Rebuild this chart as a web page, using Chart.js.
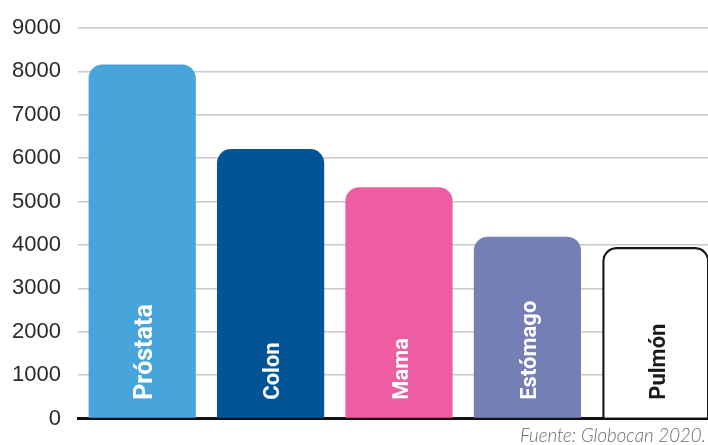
<!DOCTYPE html>
<html>
<head>
<meta charset="utf-8">
<script src="https://cdn.jsdelivr.net/npm/chart.js@4.4.1/dist/chart.umd.min.js"></script>
<style>
  html, body { margin: 0; padding: 0; background: #fff; overflow: hidden; }
  #wrap { position: relative; width: 720px; height: 445px; }
</style>
</head>
<body>
<div id="wrap"><canvas id="c"></canvas></div>
<script>
const categories = ['Próstata', 'Colon', 'Mama', 'Estómago', 'Pulmón'];
const cases = [8160, 6210, 5330, 4190, 3950];
const yTicks = [0, 1000, 2000, 3000, 4000, 5000, 6000, 7000, 8000, 9000];
const sourceNote = 'Fuente: Globocan 2020.';

const fillColors = ['#48a5db', '#035496', '#ee5ca2', '#7480b5', '#ffffff'];
const borderColors = ['#48a5db', '#035496', '#ee5ca2', '#7480b5', '#1a1a1a'];
const borderWidths = [0, 0, 0, 0, 2.5];
const labelColors = ['#ffffff', '#ffffff', '#ffffff', '#ffffff', '#1a1a1a'];
const labelSizes = [25, 22, 22, 22, 22];
const labelFont = 'Roboto';

const barLabels = {
  id: 'barLabels',
  afterDatasetsDraw(chart) {
    const ctx = chart.ctx;
    const meta = chart.getDatasetMeta(0);
    meta.data.forEach((bar, i) => {
      const size = labelSizes[i];
      ctx.save();
      ctx.font = 'bold ' + size + 'px ' + labelFont;
      ctx.fillStyle = labelColors[i];
      ctx.textAlign = 'left';
      ctx.textBaseline = 'alphabetic';
      ctx.translate(bar.x + size * 0.711 / 2 + 1, bar.base - 18);
      ctx.rotate(-Math.PI / 2);
      ctx.fillText(categories[i], 0, 0);
      ctx.restore();
    });
  },
  afterDraw(chart) {
    const ctx = chart.ctx;
    ctx.save();
    ctx.font = 'italic 300 18.7px Lato';
    ctx.fillStyle = '#6a6a6a';
    ctx.textAlign = 'right';
    ctx.textBaseline = 'alphabetic';
    ctx.fillText(sourceNote, 706, 442);
    ctx.restore();
  }
};

function build() {
  new Chart(document.getElementById('c'), {
    type: 'bar',
    data: {
      labels: categories,
      datasets: [{
        data: cases,
        backgroundColor: fillColors,
        borderColor: borderColors,
        borderWidth: borderWidths,
        borderRadius: 14,
        borderSkipped: 'start',
        barPercentage: 0.835,
        categoryPercentage: 1
      }]
    },
    options: {
      responsive: true,
      maintainAspectRatio: false,
      animation: false,
      devicePixelRatio: 1,
      layout: { padding: { top: 28, left: 0, right: 0, bottom: 26.5 } },
      plugins: {
        legend: { display: false },
        tooltip: { enabled: false },
        title: { display: false }
      },
      scales: {
        x: {
          afterFit(scale) { scale.height = 0; scale.paddingLeft = 0; scale.paddingRight = 0; },
          grid: { display: false, drawTicks: false },
          ticks: { display: false },
          border: { display: true, color: '#111111', width: 3 }
        },
        y: {
          min: 0,
          max: 9000,
          afterBuildTicks(scale) { scale.ticks = yTicks.map(v => ({ value: v })); },
          afterFit(scale) { scale.width = 78; scale.paddingTop = 0; scale.paddingBottom = 0; },
          grid: { color: '#c9c9c9', lineWidth: 1.5, drawTicks: false },
          border: { display: false },
          ticks: {
            padding: 17,
            color: '#2a2a2a',
            font: { family: 'Liberation Sans', size: 22 },
            callback: (v) => String(v)
          }
        }
      }
    },
    plugins: [barLabels]
  });
}

Promise.all([
  document.fonts.load('bold 22px Roboto'),
  document.fonts.load('italic 300 18px Lato'),
  document.fonts.load('22px "Liberation Sans"')
]).then(build, build);
</script>
</body>
</html>
